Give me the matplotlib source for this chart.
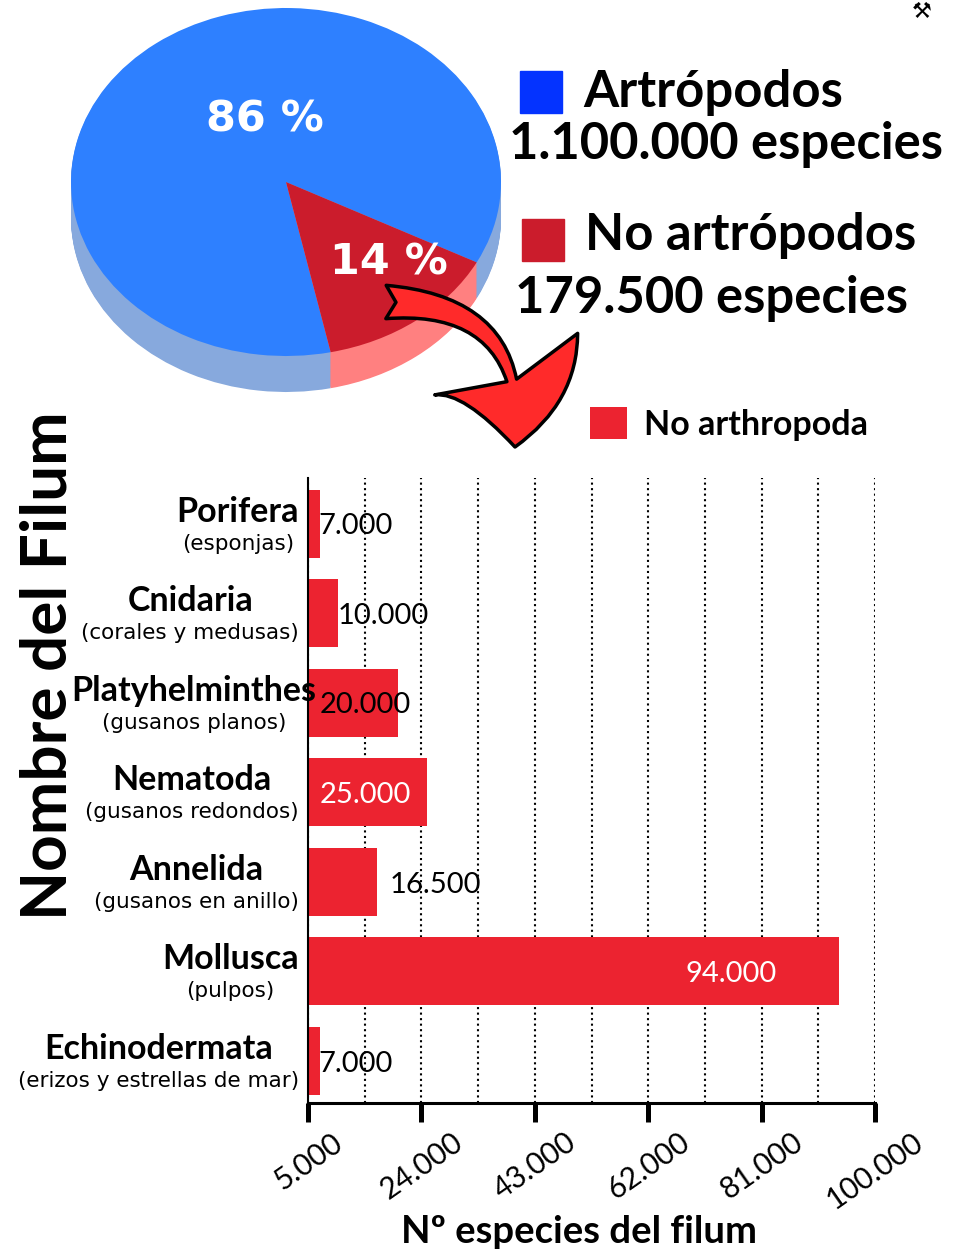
import numpy as np
import matplotlib
matplotlib.use("Agg")
import matplotlib.pyplot as plt
from matplotlib.patches import Rectangle, FancyArrowPatch
from matplotlib.ticker import FixedLocator, FuncFormatter

# pie data
grupos = ["Artrópodos", "No artrópodos"]
especies = [1100000, 179500]

# bar data
filos = ["Porifera", "Cnidaria", "Platyhelminthes", "Nematoda",
         "Annelida", "Mollusca", "Echinodermata"]
nombres = ["(esponjas)", "(corales y medusas)", "(gusanos planos)",
           "(gusanos redondos)", "(gusanos en anillo)", "(pulpos)",
           "(erizos y estrellas de mar)"]
n_especies = [7000, 10000, 20000, 25000, 16500, 94000, 7000]

# where the value labels start (data units) and their colour
label_x = [6700, 10000, 7000, 7000, 18700, 68200, 6700]
label_col = ["black", "black", "black", "white", "black", "white", "black"]

plt.rcParams['font.family'] = ['Lato', 'DejaVu Sans']

W, H, DPI = 971, 1253, 100
fig = plt.figure(figsize=(W / DPI, H / DPI), dpi=DPI)


def fx(px):
    return px / W


def fy(py):
    return 1 - py / H


def pts(px):
    return px * 72 / DPI


BLUE, RED = "#2E80FF", "#CB1C2C"
BLUE_SIDE, RED_SIDE = "#87A9DD", "#FF8080"
BAR = "#EC2330"

# ---- 3d-ish pie ----
cx, cy, a, b = 286, 182, 215, 174
xl, yl = (-1.2, 1.2), (-1.4, 1.02)
axp = fig.add_axes([fx(cx + xl[0] * a), fy(cy - yl[0] * b),
                    (xl[1] - xl[0]) * a / W, (yl[1] - yl[0]) * b / H])
depth = 36 / b
for d in np.linspace(depth, 0.005, 40):
    axp.pie(especies, colors=[BLUE_SIDE, RED_SIDE], startangle=-27.5,
            center=(0, -d), wedgeprops=dict(linewidth=0))
axp.pie(especies, colors=[BLUE, RED], startangle=-27.5,
        wedgeprops=dict(linewidth=0))
axp.set_aspect('auto')
axp.set_xlim(xl)
axp.set_ylim(yl)
axp.axis('off')

pct = [round(v / sum(especies) * 100) for v in especies]
axp.text(-0.10, 0.36, f"{pct[0]} %", color="white", fontsize=31,
         weight="bold", family="DejaVu Sans", ha="center", va="center")
axp.text(0.48, -0.46, f"{pct[1]} %", color="white", fontsize=31,
         weight="bold", family="DejaVu Sans", ha="center", va="center")

# pie legend
fig.add_artist(Rectangle((fx(520), fy(113)), 42 / W, 42 / H,
                         transform=fig.transFigure, color="#0433FF"))
fig.add_artist(Rectangle((fx(522), fy(261)), 42 / W, 42 / H,
                         transform=fig.transFigure, color=RED))
fmt = lambda v: f"{v:,}".replace(",", ".")
big = dict(fontsize=36.5, weight="bold", va="baseline", ha="left")
fig.text(fx(583), fy(107), grupos[0], **big)
fig.text(fx(509), fy(159), f"{fmt(especies[0])} especies", **big)
fig.text(fx(585), fy(250), grupos[1], **big)
fig.text(fx(515), fy(313), f"{fmt(especies[1])} especies", **big)
fig.text(fx(922), fy(12), "⚒", fontsize=16, ha="center", va="center",
         family="DejaVu Sans")

# ---- bars ----
ax = fig.add_axes([fx(308), fy(1103), 567 / W, 625 / H])
y = np.arange(len(filos))
bars = ax.barh(y, n_especies, height=0.76, color=BAR, zorder=2)
ax.set_xlim(5000, 100000)
ax.set_ylim(6.47, -0.51)
ax.set_yticks([])
ax.xaxis.set_major_locator(FixedLocator(np.arange(5000, 100001, 19000)))
ax.xaxis.set_minor_locator(FixedLocator(np.arange(14500, 100000, 19000)))
ax.xaxis.set_major_formatter(FuncFormatter(lambda v, p: fmt(int(v))))
ax.grid(axis='x', which='both', ls=':', color='black', lw=1.5, zorder=1)
ax.tick_params(axis='x', which='major', length=14, width=3.6,
               direction='out', pad=4, labelsize=21.5, labelrotation=35)
ax.tick_params(axis='x', which='minor', length=0)
for lab in ax.get_xticklabels():
    lab.set_ha('center')
for s in ['top', 'right']:
    ax.spines[s].set_visible(False)
ax.spines['bottom'].set_linewidth(2.2)
ax.spines['left'].set_linewidth(1.5)

for i, v in enumerate(n_especies):
    ax.text(label_x[i], i + 0.03, fmt(v), color=label_col[i], fontsize=21,
            ha='left', va='center', zorder=3)

ax.legend([bars], ["No arthropoda"], loc='upper left',
          bbox_to_anchor=(fx(590), fy(407)), bbox_transform=fig.transFigure,
          frameon=False, borderpad=0, borderaxespad=0, handlelength=1.08,
          handleheight=1.08, handletextpad=0.5,
          prop=dict(weight='bold', size=24.5))

# category labels: two lines, centred on each other, block right-aligned
# (a long bold name may hang past the right edge, as in the original)
names, subs = [], []
for i in range(len(filos)):
    t1 = ax.annotate(filos[i], xy=(0, i), xycoords=('axes fraction', 'data'),
                     xytext=(0, pts(2)), textcoords='offset points',
                     ha='center', va='baseline', fontsize=24.5, weight='bold',
                     annotation_clip=False, zorder=4)
    t2 = ax.annotate(nombres[i], xy=(0, i), xycoords=('axes fraction', 'data'),
                     xytext=(0, pts(-26)), textcoords='offset points',
                     ha='center', va='baseline', fontsize=15.5,
                     family='DejaVu Sans', annotation_clip=False)
    names.append(t1)
    subs.append(t2)
fig.canvas.draw()
r = fig.canvas.get_renderer()
for t1, t2 in zip(names, subs):
    w1 = t1.get_window_extent(r).width
    w2 = t2.get_window_extent(r).width
    w = max(w2, min(w1, 210))
    off = pts(-9 - w / 2)
    t1.xyann = (off, t1.xyann[1])
    t2.xyann = (off, t2.xyann[1])

fig.text(fx(48), fy(666), "Nombre del Filum", rotation=90, fontsize=46,
         weight='bold', ha='center', va='center')
fig.text(fx(579), fy(1243), "Nº especies del filum", fontsize=27.5,
         weight='bold', ha='center', va='baseline')

# curved arrow from the red slice down to the bars
arrow = FancyArrowPatch(posA=(fx(386), fy(302)), posB=(fx(515), fy(447)),
                        transform=fig.transFigure,
                        arrowstyle="fancy,head_length=1.5,head_width=2.8,tail_width=0.6",
                        connectionstyle="arc3,rad=-0.55", mutation_scale=40,
                        fc="#FF2A2A", ec="black", lw=2.5,
                        shrinkA=0, shrinkB=0, zorder=5)
fig.add_artist(arrow)

fig.savefig("out.png", dpi=DPI)
